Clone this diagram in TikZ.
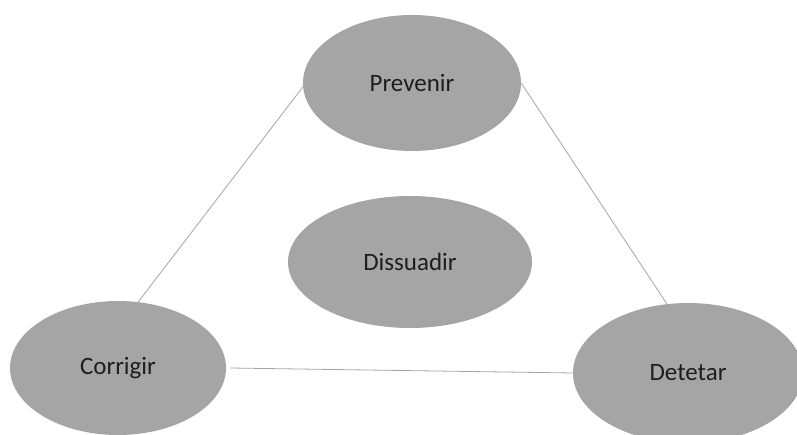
\documentclass[tikz,border=0pt]{standalone}
\usepackage{fontspec}
\setmainfont{Carlito}
\usepackage{tikz}
\usetikzlibrary{shapes.geometric}
\definecolor{OfficeGray}{RGB}{165,165,165}
\definecolor{TextGray}{RGB}{30,30,30}

\begin{document}
\begin{tikzpicture}[x=1pt,y=-1pt,
		bubble/.style={ellipse, fill=OfficeGray, inner sep=0pt, text=TextGray,
			font=\fontsize{25}{30}\selectfont},
		link/.style={draw=OfficeGray, line width=0.8pt}]
	
		\useasboundingbox (0,0) rectangle (797,435);
		\clip (0,0) rectangle (797,435);
		
		\node [bubble, minimum width=218, minimum height=136] (prevenir) at (412,83) {Prevenir};
		\node [bubble, minimum width=244, minimum height=132] (dissuadir) at (410,262) {Dissuadir};
		\node [bubble, minimum width=216, minimum height=134] (corrigir) at (118,368) {Corrigir}; %bottom cut
		\node [bubble, minimum width=230, minimum height=140] (detetar) at (688,373) {Detetar}; %right cut
		
		\draw [link] (prevenir.182) -- (corrigir.73);
		\draw [link] (prevenir.east) -- (detetar.107);
		\draw [link] ([xshift=4pt]corrigir.east) -- (detetar.west);
	\end{tikzpicture}
\end{document}
